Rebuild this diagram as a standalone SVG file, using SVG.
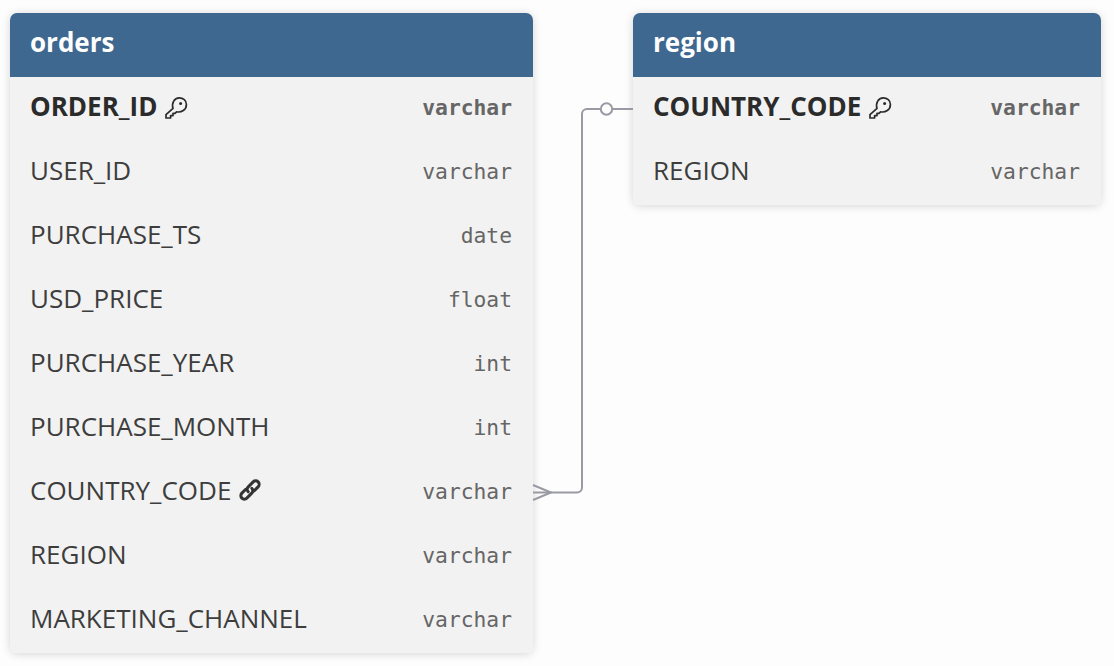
<svg xmlns="http://www.w3.org/2000/svg" width="1114" height="666" viewBox="0 0 1114 666">
<style>
.card{fill:#f2f2f2}
.head{fill:#3e6890}
.title{font:700 26px "Open Sans",sans-serif;fill:#fff}
.name{font:400 26px "Open Sans",sans-serif;fill:#3d3d3d}
.pk{font-weight:700;fill:#2b2b2b}
.type{font:400 21.3px "DejaVu Sans Mono",monospace;fill:#666;text-anchor:end}
.typepk{font-weight:700}
.icon{fill:none;stroke:#2b2b2b;stroke-width:1.7;stroke-linejoin:round;stroke-linecap:round}
.link{fill:none;stroke:#333;stroke-width:3;stroke-linecap:round}
.conn{fill:none;stroke:#9a9aa4;stroke-width:2}
</style>
<defs>
<filter id="sh" x="-10%" y="-10%" width="120%" height="120%"><feDropShadow dx="0" dy="1" stdDeviation="4" flood-color="#000" flood-opacity="0.16"/></filter>
<symbol id="key" viewBox="0 0 22 22" overflow="visible"><path class="icon" d="M8 11.400 L1 17.600 V21 H5.600 V18.600 H8 V16.400 H10 L11.600 14.800 C16.400 15.800 21.400 12.800 21.400 7.400 C21.400 3.400 18.200 0.800 14.200 0.800 C9.400 0.800 6.400 6 8 11.400 Z"/><circle cx="15.600" cy="6.400" r="1.500" fill="#2b2b2b"/></symbol>
</defs>
<rect width="1114" height="666" fill="#fdfdfd"/>
<g id="orders">
<rect class="card" x="10" y="13" width="523" height="640" rx="7" filter="url(#sh)"/>
<path class="head" d="M10 77V20a7 7 0 0 1 7-7H526a7 7 0 0 1 7 7V77Z"/>
<text class="title" x="30" y="52">orders</text>
<text class="name pk" x="30" y="116">ORDER_ID</text><use href="#key" x="165" y="97" width="22" height="22"/><text class="type typepk" x="512" y="115">varchar</text>
<text class="name" x="30" y="180">USER_ID</text><text class="type" x="512" y="179">varchar</text>
<text class="name" x="30" y="244">PURCHASE_TS</text><text class="type" x="512" y="243">date</text>
<text class="name" x="30" y="308">USD_PRICE</text><text class="type" x="512" y="307">float</text>
<text class="name" x="30" y="372">PURCHASE_YEAR</text><text class="type" x="512" y="371">int</text>
<text class="name" x="30" y="436">PURCHASE_MONTH</text><text class="type" x="512" y="435">int</text>
<text class="name" x="30" y="500">COUNTRY_CODE</text>
<g transform="rotate(-45 250 490)"><path class="link" d="M247.500 486.500H242a3.500 3.500 0 0 0 0 7H249a3.500 3.500 0 0 0 3.500-3.500"/><path class="link" d="M252.500 493.500H258a3.500 3.500 0 0 0 0-7H251a3.500 3.500 0 0 0 -3.500 3.500"/></g>
<text class="type" x="512" y="499">varchar</text>
<text class="name" x="30" y="564">REGION</text><text class="type" x="512" y="563">varchar</text>
<text class="name" x="30" y="628">MARKETING_CHANNEL</text><text class="type" x="512" y="627">varchar</text>
</g>
<g id="region">
<rect class="card" x="633" y="13" width="468" height="192" rx="7" filter="url(#sh)"/>
<path class="head" d="M633 77V20a7 7 0 0 1 7-7H1094a7 7 0 0 1 7 7V77Z"/>
<text class="title" x="653" y="52">region</text>
<text class="name pk" x="653" y="116">COUNTRY_CODE</text><use href="#key" x="869" y="97" width="22" height="22"/><text class="type typepk" x="1080" y="115">varchar</text>
<text class="name" x="653" y="180">REGION</text><text class="type" x="1080" y="179">varchar</text>
</g>
<g id="connectors">
<path class="conn" d="M533 492.500H577a5 5 0 0 0 5-5V114a5 5 0 0 1 5-5H601M613 109H633"/>
<circle class="conn" cx="606.500" cy="109" r="5.700"/>
<path class="conn" d="M533 485L551 492.500L533 500"/>
</g>
</svg>
